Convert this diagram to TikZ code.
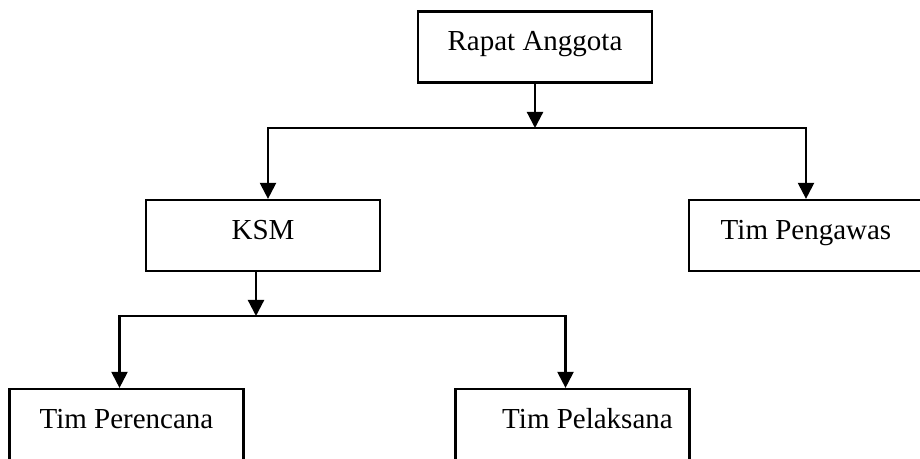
\documentclass[tikz,border=0pt]{standalone}
\usepackage{fontspec}
\setmainfont{Liberation Serif}
\usetikzlibrary{arrows.meta,positioning}

\begin{document}
\begin{tikzpicture}[x=0.5pt,y=-0.5pt,
 every node/.style={font=\fontsize{14.5}{17}\selectfont},
 orgbox/.style={draw,line width=1.1pt,minimum width=117pt,minimum height=35.5pt,
  text height=12pt,text depth=8.4pt,inner sep=0pt},
 arr/.style={line width=1.1pt,-{Triangle[length=8pt,width=8pt]}}]
\useasboundingbox (0,0) rectangle (920,459);
\clip (0,0) rectangle (920,459);
\node[orgbox] (rapat) at (535,47) {Rapat Anggota};
\node[orgbox] (ksm) at (263,235.5) {KSM};
\node[orgbox] (pengawas) at (806,235.5) {Tim Pengawas};
\node[orgbox] (perencana) at (126.5,424.5) {Tim Perencana};
\node[orgbox] (pelaksana) at (572.5,424.5) {\hspace*{15pt}Tim Pelaksana};
\coordinate (busA) at (536,128);
\coordinate (busB) at (256,316);
\draw[arr] (rapat.south) -- (rapat.south |- busA);
\draw[arr] (busA) -| ([xshift=2.5pt]ksm.north);
\draw[arr] (busA) -| (pengawas.north);
\draw[arr] ([xshift=-3.5pt]ksm.south) -- (busB);
\draw[arr] (busB) -| ([xshift=-3.5pt]perencana.north);
\draw[arr] (busB) -| ([xshift=-3.5pt]pelaksana.north);
\end{tikzpicture}
\end{document}
